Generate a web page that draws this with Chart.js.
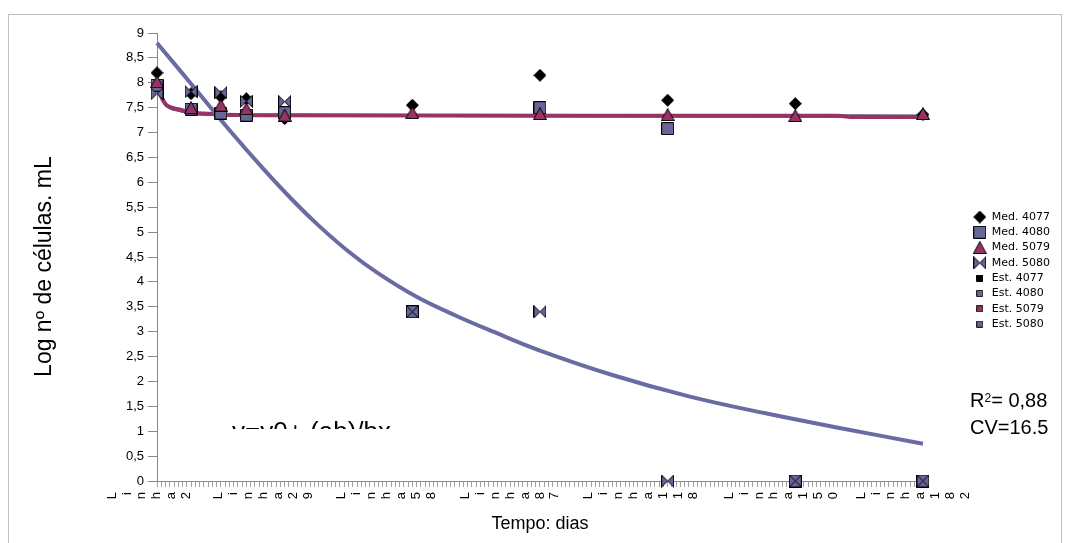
<!DOCTYPE html>
<html><head><meta charset="utf-8">
<script src="https://cdn.jsdelivr.net/npm/chart.js@4.4.1/dist/chart.umd.min.js"></script>
<style>
html,body{margin:0;padding:0;background:#fff;}
#wrap{position:relative;width:1070px;height:543px;overflow:hidden;font-family:"Liberation Sans",Arial,sans-serif;}
#frame{position:absolute;left:8px;top:14px;width:1054px;height:560px;border:1px solid #c0c0c0;box-sizing:border-box;}
canvas{position:absolute;left:0;top:0;}
.note{position:absolute;font-size:20px;line-height:24px;color:#000;white-space:nowrap;}
.note sup{font-size:12px;vertical-align:top;position:relative;top:-2px;}
#eqclip{position:absolute;left:232px;top:418px;width:240px;height:11px;overflow:hidden;}
#eq{font-size:26px;line-height:26px;margin-top:0px;white-space:nowrap;color:#000;}
</style></head>
<body>
<div id="wrap">
<div id="frame"></div>
<canvas id="c" width="1070" height="543"></canvas>
<div class="note" style="left:970px;top:388px">R<sup>2</sup>= 0,88</div>
<div class="note" style="left:970px;top:415px">CV=16.5</div>
<div id="eqclip"><div id="eq">y=y0+ (ab)/bx</div></div>
</div>
<script>
// ---- data ----
const days = [0, 8, 15, 21, 30, 60, 90, 120, 150, 180];
const med4077 = [8.2, 7.78, 7.72, 7.68, 7.28, 7.55, 8.15, 7.65, 7.58, 7.36];
const med4080 = [7.95, 7.47, 7.39, 7.35, 7.4, 3.4, 7.5, 7.08, 0, 0];
const med5079 = [8.02, 7.5, 7.55, 7.48, 7.35, 7.4, 7.38, 7.36, 7.34, 7.38];
const med5080 = [7.78, 7.82, 7.8, 7.63, 7.62, 3.4, 3.4, 0, 0, 0];

const estDays4077 = [0, 2, 5, 10, 20, 180];
const est4077 = [7.95, 7.57, 7.45, 7.38, 7.35, 7.33];
const estDays4080 = [0, 2, 5, 10, 20, 180];
const est4080 = [7.95, 7.57, 7.45, 7.38, 7.35, 7.33];
const estDays5079 = [0, 1, 2, 5, 9, 14, 25, 100, 160, 163, 180];
const est5079 = [7.98, 7.72, 7.57, 7.47, 7.4, 7.37, 7.35, 7.34, 7.34, 7.31, 7.31];
const estDays5080 = [0, 8, 17, 25, 32, 38, 45, 52, 61, 70, 79, 90, 107, 125, 143, 161, 180];
const est5080 = [8.8, 7.98, 7.05, 6.27, 5.63, 5.13, 4.61, 4.17, 3.7, 3.33, 3.0, 2.62, 2.13, 1.7, 1.36, 1.055, 0.75];

const xTickLabels = ['Linha 2', 'Linha 29', 'Linha 58', 'Linha 87', 'Linha 118', 'Linha 150', 'Linha 182'];
const xTickDays = [4, 29, 58, 87, 116, 149, 180];
const yTickLabels = ['0','0,5','1','1,5','2','2,5','3','3,5','4','4,5','5','5,5','6','6,5','7','7,5','8','8,5','9'];

// ---- marker images ----
function marker(shape, w, h, fill, stroke) {
  const c = document.createElement('canvas');
  c.width = w; c.height = h;
  const g = c.getContext('2d');
  g.fillStyle = fill; g.strokeStyle = stroke; g.lineWidth = 1;
  g.beginPath();
  if (shape === 'diamond') {
    g.moveTo(w/2, 0.5); g.lineTo(w-0.5, h/2); g.lineTo(w/2, h-0.5); g.lineTo(0.5, h/2); g.closePath();
  } else if (shape === 'square') {
    g.rect(0.5, 0.5, w-1, h-1);
  } else if (shape === 'triangle') {
    g.moveTo(w/2, 0.5); g.lineTo(w-0.5, h-0.5); g.lineTo(0.5, h-0.5); g.closePath();
  } else if (shape === 'bowtie') {
    g.moveTo(0.5, 0.5); g.lineTo(w/2, h/2); g.lineTo(w-0.5, 0.5); g.lineTo(w-0.5, h-0.5);
    g.lineTo(w/2, h/2); g.lineTo(0.5, h-0.5); g.closePath();
  }
  g.fill(); g.stroke();
  return c;
}
const BLUE = '#666699', PINK = '#993366';
const mDiamond = marker('diamond', 13, 13, '#000', '#000');
const mSquare = marker('square', 13, 13, BLUE, '#000');
const mTriangle = marker('triangle', 14, 13, PINK, '#000');
const mBowtie = marker('bowtie', 13, 13, BLUE, '#000');
const s4077 = marker('square', 7, 7, '#000', '#000');
const s4080 = marker('square', 7, 7, BLUE, '#222');
const s5079 = marker('square', 7, 7, PINK, '#222');
const s5080 = marker('square', 7, 7, BLUE, '#222');

const pts = (xs, ys) => xs.map((x, i) => ({x: x, y: ys[i]}));

Chart.defaults.font.family = '"Liberation Sans", Arial, sans-serif';
Chart.defaults.color = '#000';

const medDs = (label, data, style, order) => ({
  label, data: pts(days, data), pointStyle: style, pointRadius: 6, pointHoverRadius: 6,
  showLine: false, order, clip: false
});
const estDs = (label, xs, ys, color, width, style, order, smooth) => Object.assign({
  label, data: pts(xs, ys), showLine: true, borderColor: color, backgroundColor: color,
  borderWidth: width, pointRadius: 0, pointHoverRadius: 0, pointStyle: style,
  fill: false, order, clip: false
}, smooth ? { tension: 0.4, cubicInterpolationMode: 'default' } : { cubicInterpolationMode: 'monotone' });

new Chart(document.getElementById('c'), {
  type: 'scatter',
  data: {
    datasets: [
      medDs('Med. 4077', med4077, mDiamond, 4),
      medDs('Med. 4080', med4080, mSquare, 3),
      medDs('Med. 5079', med5079, mTriangle, 2),
      medDs('Med. 5080', med5080, mBowtie, 1),
      estDs('Est. 4077', estDays4077, est4077, '#000000', 3, s4077, 8, false),
      estDs('Est. 4080', estDays4080, est4080, BLUE, 3, s4080, 7, false),
      estDs('Est. 5079', estDays5079, est5079, PINK, 4, s5079, 6, false),
      estDs('Est. 5080', estDays5080, est5080, '#6b6ba3', 4, s5080, 5, true)
    ]
  },
  options: {
    responsive: false,
    devicePixelRatio: 1,
    animation: false,
    events: [],
    layout: { padding: { left: 0, top: 33, right: 10, bottom: 0 } },
    scales: {
      x: {
        type: 'linear', position: 'bottom', min: 0, max: 180,
        afterBuildTicks: s => { const t = []; for (let d = 0; d <= 180; d++) t.push({value: d}); s.ticks = t; },
        ticks: {
          autoSkip: false, minRotation: 90, maxRotation: 90, labelOffset: -62, padding: 5,
          font: { size: 13, lineHeight: 1.15 }, color: '#000',
          callback: v => { const i = xTickDays.indexOf(v); return i < 0 ? '' : xTickLabels[i].replace(/\s/g, '').split(''); }
        },
        grid: { drawOnChartArea: false, drawTicks: true, tickLength: 6, color: '#a0a0a0' },
        border: { color: '#888', width: 1 },
        title: { display: true, text: 'Tempo: dias', font: { size: 18 }, padding: { top: 0, bottom: 8.2 }, color: '#000' },
        afterFit: s => { s.height = 62; }
      },
      y: {
        min: 0, max: 9,
        ticks: { stepSize: 0.5, padding: 4, font: { size: 13 }, color: '#000', callback: (v, i) => yTickLabels[i] },
        grid: { drawOnChartArea: false, tickLength: 9, color: '#888' },
        border: { color: '#888', width: 1 },
        title: { display: true, text: 'Log nº de células. mL   ', font: { size: 23 }, padding: { top: 31.2, bottom: 0 }, color: '#000' },
        afterFit: s => { s.width = 157; }
      },
      y2: {
        position: 'right', display: true, min: 0, max: 9,
        grid: { display: false }, border: { display: false }, ticks: { display: false },
        afterFit: s => { s.width = 46; }
      }
    },
    plugins: {
      legend: {
        position: 'right', fullSize: false, align: 'center',
        title: { display: true, text: '', font: { size: 12 }, padding: { top: 12.7, bottom: 0 } },
        labels: {
          usePointStyle: true, pointStyleWidth: 13, padding: 4.3,
          font: { family: '"DejaVu Sans", sans-serif', size: 11 }, color: '#000',
          sort: (a, b) => a.datasetIndex - b.datasetIndex
        }
      },
      tooltip: { enabled: false }
    }
  }
});
</script>
</body></html>
